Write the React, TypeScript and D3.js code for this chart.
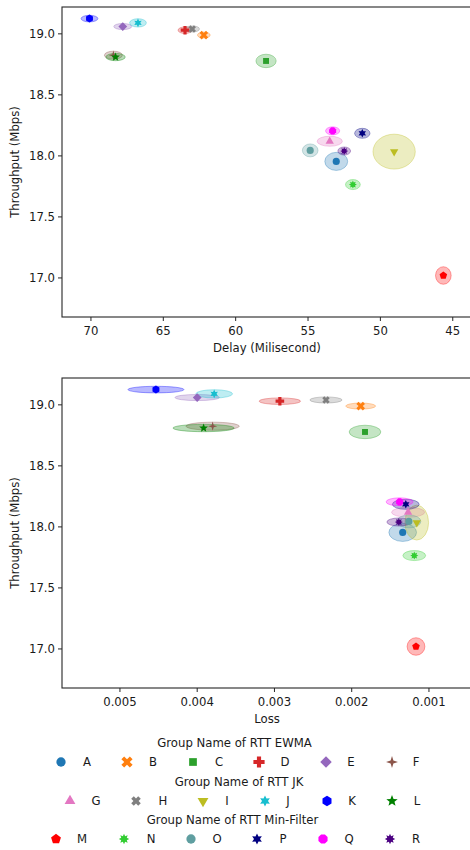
import React from "react";
import * as d3 from "d3";

// groups, shown in three legend blocks of six
const NAMES = ["A", "B", "C", "D", "E", "F", "G", "H", "I", "J", "K", "L", "M", "N", "O", "P", "Q", "R"];
const COLORS = [
  "#1f77b4", "#ff7f0e", "#2ca02c", "#d62728", "#9467bd", "#8c564b",
  "#e377c2", "#7f7f7f", "#bcbd22", "#17becf", "#0000ff", "#008000",
  "#ff0000", "#32cd32", "#5f9ea0", "#000080", "#ff00ff", "#4b0082",
];
const MARKERS = [
  "circle", "x", "square", "plus", "diamond", "star4",
  "triUp", "xs", "triDown", "star6", "hexagon", "star5",
  "pentagon", "star8", "circle", "star6", "octagon", "star8",
];
const LEGEND_TITLES = ["Group Name of RTT EWMA", "Group Name of RTT JK", "Group Name of RTT Min-Filter"];

// mean values and half spread
const DELAY = [53.05, 62.2, 57.9, 63.5, 67.8, 68.45, 53.5, 63.0, 49.05, 66.75, 70.1, 68.3, 45.65, 51.9, 54.85, 51.25, 53.3, 52.5];
const DELAY_ERR = [0.79, 0.44, 0.7, 0.48, 0.62, 0.62, 0.87, 0.5, 1.46, 0.58, 0.58, 0.67, 0.54, 0.51, 0.54, 0.53, 0.49, 0.44];
const THROUGHPUT = [17.955, 18.99, 18.778, 19.03, 19.06, 18.825, 18.12, 19.04, 18.035, 19.09, 19.125, 18.81, 17.02, 17.765, 18.045, 18.185, 18.205, 18.04];
const THROUGHPUT_ERR = [0.074, 0.025, 0.055, 0.027, 0.025, 0.033, 0.041, 0.025, 0.143, 0.034, 0.027, 0.03, 0.072, 0.041, 0.053, 0.041, 0.033, 0.033];
const LOSS = [0.00134, 0.001884, 0.001828, 0.00293, 0.004, 0.0038, 0.00127, 0.002333, 0.001158, 0.00378, 0.004534, 0.003917, 0.001168, 0.00119, 0.00126, 0.0013, 0.00138, 0.00139];
const LOSS_ERR = [0.000179, 0.000194, 0.000205, 0.000267, 0.000287, 0.000345, 0.000214, 0.000209, 0.000153, 0.000238, 0.000362, 0.000397, 0.000115, 0.000147, 0.000155, 0.000173, 0.000175, 0.000155];

const Y_TICKS = [17.0, 17.5, 18.0, 18.5, 19.0];
const DELAY_TICKS = [70, 65, 60, 55, 50, 45];
const LOSS_TICKS = [0.005, 0.004, 0.003, 0.002, 0.001];

const FONT = "DejaVu Sans";
const FS = 11.7;

const TOP = { left: 62, right: 472, top: 7, bottom: 317 };
const BOT = { left: 62, right: 472, top: 378, bottom: 688 };

// legend layout (marker x, label x) per row
const LEGEND_ROWS = [
  { title: 743, row: 762, tx: 234.5, mx: [61, 127, 193, 259, 326, 392], lx: [87, 153, 219, 285, 351, 416] },
  { title: 782, row: 801, tx: 239, mx: [70, 136, 203, 265, 327, 392], lx: [96, 163, 227, 288, 352, 417] },
  { title: 820, row: 839, tx: 232.5, mx: [56, 124, 191, 257, 323, 390], lx: [82, 151, 217, 283, 349, 416] },
];

function poly(pts: [number, number][]) {
  return "M" + pts.map((p) => p[0].toFixed(2) + "," + p[1].toFixed(2)).join("L") + "Z";
}
function regular(n: number, r: number, rot: number) {
  const pts: [number, number][] = [];
  for (let i = 0; i < n; i++) {
    const a = rot + (i * 2 * Math.PI) / n;
    pts.push([r * Math.sin(a), -r * Math.cos(a)]);
  }
  return poly(pts);
}
function star(n: number, r: number, ri: number) {
  const pts: [number, number][] = [];
  for (let i = 0; i < 2 * n; i++) {
    const a = (i * Math.PI) / n;
    const rr = i % 2 === 0 ? r : ri;
    pts.push([rr * Math.sin(a), -rr * Math.cos(a)]);
  }
  return poly(pts);
}
function plus(r: number, w: number, rot: number) {
  const base: [number, number][] = [
    [-w, -r], [w, -r], [w, -w], [r, -w], [r, w], [w, w], [w, r], [-w, r], [-w, w], [-r, w], [-r, -w], [-w, -w],
  ];
  const c = Math.cos(rot), s = Math.sin(rot);
  return poly(base.map(([x, y]) => [x * c - y * s, x * s + y * c]));
}

function markerPath(kind: string) {
  switch (kind) {
    case "circle": return d3.symbol(d3.symbolCircle, 40)() as string;
    case "x": return plus(4.6, 1.5, Math.PI / 4);
    case "xs": return plus(3.8, 1.4, Math.PI / 4);
    case "square": return regular(4, 4.2, Math.PI / 4);
    case "plus": return plus(4.3, 1.6, 0);
    case "diamond": return regular(4, 4.4, 0);
    case "star4": return star(4, 4.6, 1.5);
    case "triUp": return regular(3, 4.8, 0);
    case "triDown": return regular(3, 4.8, Math.PI);
    case "star6": return star(6, 4.3, 2.3);
    case "hexagon": return regular(6, 4.0, 0);
    case "star5": return star(5, 4.6, 2.0);
    case "pentagon": return regular(5, 4.0, 0);
    case "star8": return star(8, 4.0, 2.3);
    case "octagon": return regular(8, 3.8, Math.PI / 8);
    default: return d3.symbol(d3.symbolCircle, 40)() as string;
  }
}

type Box = { left: number; right: number; top: number; bottom: number };

function Panel({ box, xs, xErr, xDomain, xTicks, xFmt, xLabel }: {
  box: Box; xs: number[]; xErr: number[]; xDomain: [number, number]; xTicks: number[];
  xFmt: (v: number) => string; xLabel: string;
}) {
  const x = d3.scaleLinear().domain(xDomain).range([box.left, box.right]);
  const y = d3.scaleLinear().domain([16.68, 19.22]).range([box.bottom, box.top]);
  const ink = "#262626";
  return (
    <g>
      {NAMES.map((n, i) => (
        <ellipse
          key={"e" + n}
          cx={x(xs[i])}
          cy={y(THROUGHPUT[i])}
          rx={Math.abs(x(xs[i] + xErr[i]) - x(xs[i]))}
          ry={Math.abs(y(THROUGHPUT[i] + THROUGHPUT_ERR[i]) - y(THROUGHPUT[i]))}
          fill={COLORS[i]}
          fillOpacity={0.28}
          stroke={COLORS[i]}
          strokeOpacity={0.35}
          strokeWidth={1}
        />
      ))}
      {NAMES.map((n, i) => (
        <path
          key={"m" + n}
          d={markerPath(MARKERS[i])}
          transform={`translate(${x(xs[i])},${y(THROUGHPUT[i])})`}
          fill={COLORS[i]}
        />
      ))}
      <rect x={box.left} y={box.top} width={box.right - box.left} height={box.bottom - box.top}
        fill="none" stroke={ink} strokeWidth={1.1} />
      {Y_TICKS.map((t) => (
        <g key={"y" + t} transform={`translate(${box.left},${y(t)})`}>
          <line x1={-4} x2={0} stroke={ink} strokeWidth={1} />
          <text x={-7} dy="0.35em" textAnchor="end" fontFamily={FONT} fontSize={FS} fill="#1a1a1a">
            {t.toFixed(1)}
          </text>
        </g>
      ))}
      {xTicks.map((t) => (
        <g key={"x" + t} transform={`translate(${x(t)},${box.bottom})`}>
          <line y1={0} y2={4} stroke={ink} strokeWidth={1} />
          <text y={14} dy="0.35em" textAnchor="middle" fontFamily={FONT} fontSize={FS} fill="#1a1a1a">
            {xFmt(t)}
          </text>
        </g>
      ))}
      <text x={(box.left + box.right) / 2} y={box.bottom + 31} dy="0.35em" textAnchor="middle"
        fontFamily={FONT} fontSize={FS} fill="#1a1a1a">{xLabel}</text>
      <text transform={`translate(15,${(box.top + box.bottom) / 2}) rotate(-90)`} dy="0.35em"
        textAnchor="middle" fontFamily={FONT} fontSize={FS} fill="#1a1a1a">Throughput (Mbps)</text>
    </g>
  );
}

export default function App() {
  return (
    <svg width={470} height={850} style={{ position: "absolute", left: 0, top: 0, background: "#fff" }}>
      <rect width={470} height={850} fill="#fff" />
      <Panel box={TOP} xs={DELAY} xErr={DELAY_ERR} xDomain={[72, 43.67]} xTicks={DELAY_TICKS}
        xFmt={(v) => String(v)} xLabel="Delay (Milisecond)" />
      <Panel box={BOT} xs={LOSS} xErr={LOSS_ERR} xDomain={[0.00575, 0.000443]} xTicks={LOSS_TICKS}
        xFmt={(v) => v.toFixed(3)} xLabel="Loss" />
      {LEGEND_ROWS.map((row, r) => (
        <g key={"leg" + r}>
          <text x={row.tx} y={row.title} dy="0.35em" textAnchor="middle" fontFamily={FONT} fontSize={FS} fill="#1a1a1a">
            {LEGEND_TITLES[r]}
          </text>
          {row.mx.map((mx, k) => {
            const i = r * 6 + k;
            return (
              <g key={NAMES[i]}>
                <path d={markerPath(MARKERS[i])} transform={`translate(${mx},${row.row}) scale(1.3)`} fill={COLORS[i]} />
                <text x={row.lx[k]} y={row.row} dy="0.35em" textAnchor="middle" fontFamily={FONT} fontSize={FS} fill="#1a1a1a">
                  {NAMES[i]}
                </text>
              </g>
            );
          })}
        </g>
      ))}
    </svg>
  );
}
